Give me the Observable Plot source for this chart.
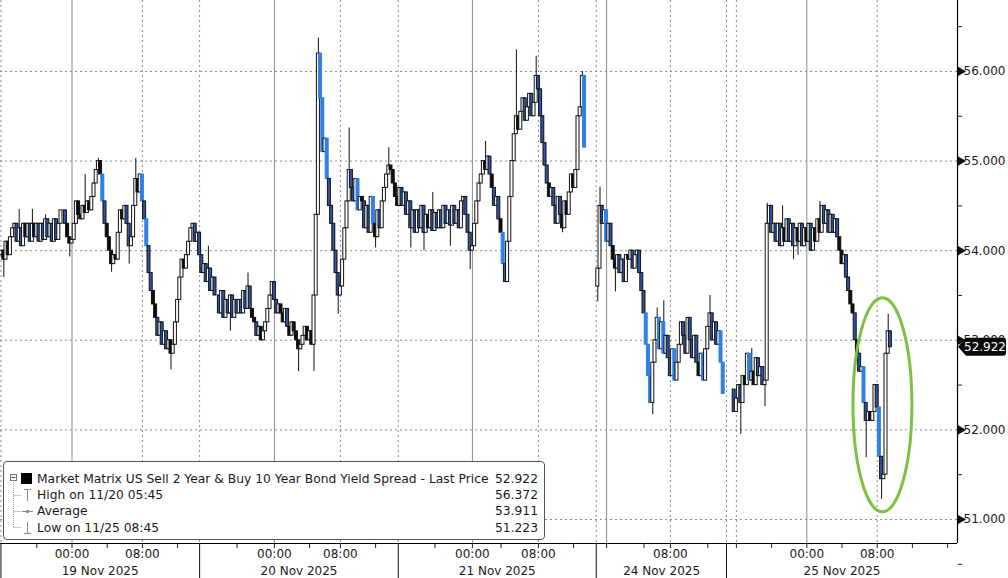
<!DOCTYPE html>
<html><head><meta charset="utf-8">
<script src="https://cdn.jsdelivr.net/npm/d3@7"></script>
<script src="https://cdn.jsdelivr.net/npm/@observablehq/plot@0.6"></script>
<style>
body{margin:0;background:#fff;font-family:"DejaVu Sans",Verdana,sans-serif;}
#wrap{position:relative;width:1008px;height:578px;overflow:hidden;background:#fff;}
#legend{position:absolute;left:3px;top:461px;width:542px;height:79px;border:1px solid #555;border-radius:4px;background:#fff;box-sizing:border-box;font-size:12.3px;color:#1a1a1a;}
#legend .row{position:absolute;left:33px;right:6px;height:16px;line-height:16px;white-space:nowrap;}
#legend .row .v{position:absolute;right:0;top:0;}
</style></head>
<body>
<div id="wrap">
<div id="chart"></div>
<div id="legend">
 <svg width="40" height="77" style="position:absolute;left:0;top:0">
  <line x1="9.5" y1="20" x2="9.5" y2="66" stroke="#999" stroke-dasharray="1,1"/>
  <line x1="9.5" y1="33.5" x2="17" y2="33.5" stroke="#999" stroke-dasharray="1,1"/>
  <line x1="9.5" y1="49.5" x2="17" y2="49.5" stroke="#999" stroke-dasharray="1,1"/>
  <line x1="9.5" y1="65.5" x2="17" y2="65.5" stroke="#999" stroke-dasharray="1,1"/>
  <rect x="6.5" y="12.5" width="6" height="6" fill="#fff" stroke="#777"/>
  <line x1="7.5" y1="15.5" x2="11.5" y2="15.5" stroke="#555"/>
  <rect x="17" y="11" width="11" height="11" fill="#000"/>
  <line x1="20" y1="27.5" x2="27" y2="27.5" stroke="#888"/><line x1="23.5" y1="27.5" x2="23.5" y2="39" stroke="#888"/>
  <line x1="18" y1="49.5" x2="29" y2="49.5" stroke="#888"/><circle cx="23.5" cy="49.5" r="1.8" fill="#888"/>
  <line x1="23.5" y1="60" x2="23.5" y2="71.5" stroke="#888"/><line x1="20" y1="71.5" x2="27" y2="71.5" stroke="#888"/>
 </svg>
 <div class="row" style="top:9px">Market Matrix US Sell 2 Year &amp; Buy 10 Year Bond Yield Spread - Last Price<span class="v">52.922</span></div>
 <div class="row" style="top:25px">High on 11/20 05:45<span class="v">56.372</span></div>
 <div class="row" style="top:41px">Average<span class="v">53.911</span></div>
 <div class="row" style="top:58px">Low on 11/25 08:45<span class="v">51.223</span></div>
</div>
</div>
<script>
// ---- data: 15-minute bars, x = bar slot index (non-trading gaps removed) ----
const seg1Start = 0, seg1Open = 53.95;
const seg1 = [54.0,53.9,54.1,53.95,54.15,54.25,
54.3,54.1,54.25,54.05,54.3,54.15,54.3,54.1,54.3,
54.15,54.3,54.1,54.3,54.12,54.35,54.15,54.3,54.1,54.35,54.12,54.3,54.45,
54.45,54.3,54.15,54.08,54.12,
54.3,54.55,54.4,54.35,54.5,54.42,54.55,54.45,
54.6,54.75,54.9,55.0,54.85,
54.55,54.3,54.15,
54.0,53.85,53.95,53.9,
54.2,54.45,54.35,54.5,54.3,
54.05,54.15,
54.5,54.8,54.65,54.85,
54.55,54.35,54.05,
53.75,53.55,53.4,
53.25,53.05,53.2,52.95,53.1,52.9,53.0,52.85,52.95,
53.2,53.45,53.7,
53.9,53.8,53.95,
54.1,54.25,54.3,54.1,54.2,
53.95,53.75,53.85,
53.65,53.8,53.55,53.7,53.5,
53.5,53.3,53.55,53.25,53.45,53.3,53.5,53.25,53.45,53.3,
53.45,53.3,53.55,53.35,53.6,53.35,53.25,
53.2,53.05,53.15,53.0,53.1,53.2,
53.35,53.5,53.65,53.45,53.3,53.4,
53.3,53.2,53.35,53.15,53.05,53.2,53.1,53.0,52.9,52.95,
53.05,53.15,53.0,53.1,52.95,
53.5,54.4,56.2,55.7,55.1,55.25,54.8,54.5,
54.3,54.0,53.75,53.5,
53.6,53.9,54.25,54.55,
54.9,54.7,54.55,54.8,54.45,54.6,
54.55,54.25,54.5,54.2,54.6,54.3,54.15,54.45,54.25,
54.55,54.7,54.85,54.95,54.9,
54.75,54.6,54.5,
54.7,54.5,54.65,54.4,54.55,54.25,54.45,54.2,
54.45,54.25,54.5,54.2,54.4,54.25,54.45,54.22,54.42,54.25,
54.45,54.25,54.5,54.3,54.45,54.28,54.5,54.3,54.45,54.25,
54.55,54.6,54.4,
54.2,54.0,54.05,
54.3,54.55,54.75,54.85,
55.0,54.9,55.05,54.85,
54.7,54.5,54.6,54.35,
54.2,53.85,53.65,
54.1,54.6,55.0,
55.3,55.5,55.35,55.55,
55.7,55.45,55.6,55.75,55.5,55.65,
55.95,55.8,
55.5,55.2,54.95,
54.75,54.6,54.7,
54.5,54.3,54.6,54.4,54.25,54.55,54.4,
54.65,54.85,54.7,54.9,
55.5,55.6,55.95,55.15];

const seg2Start = 271, seg2Open = 53.6;
const seg2 = [53.8,54.5,54.3,54.45,54.1,54.3,54.05,53.9,53.8,53.95,53.75,53.9,53.65,53.95,
53.9,54.0,53.8,53.95,54.0,53.75,53.55,53.3,52.95,52.6,52.3,52.75,53.0,53.25,52.9,53.2,
52.85,53.05,52.8,52.6,52.9,52.55,52.75,52.95,53.2,53.05,52.85,53.25,53.0,52.8,53.05,
52.75,52.6,52.85,52.55,52.9,53.15,53.3,53.0,53.2,52.95,53.1,52.75,52.4];

const seg3Start = 333, seg3Open = 52.45;
const seg3 = [52.2,52.35,52.5,52.3,52.6,52.5,52.85,52.55,52.65,52.5,52.8,52.6,52.7,52.5,52.55,
54.3,54.5,54.2,
54.3,54.1,54.3,54.05,54.25,54.1,54.35,54.1,54.3,54.05,54.25,54.1,54.3,54.05,54.25,
54.1,54.3,54.0,54.25,54.1,54.35,54.2,
54.5,54.3,54.45,
54.2,54.4,54.2,54.35,54.15,
54.0,53.85,53.95,53.7,
53.55,53.4,53.3,
53.0,52.85,
52.65,52.7,
52.3,52.1,52.2,
52.1,52.2,
52.5,52.25,
51.7,51.45,51.5,52.85,53.1,52.922];

// wick extremes: [slot, high, low]
const wicks = [[1,null,53.7],[8,54.46,null],[14,54.46,null],[20,54.4,null],[31,null,53.93],[38,54.85,null],
[44,55.03,null],[50,null,53.76],[58,null,53.85],[61,55.03,null],[77,null,52.67],[94,54.05,null],
[104,null,53.1],[112,53.75,null],
[135,null,52.65],[142,null,52.65],[144,56.372,null],[153,null,53.29],[158,55.37,null],[170,null,54.03],
[176,55.15,null],[186,null,54.03],[192,null,54.0],[196,54.65,null],[204,null,54.05],
[213,null,53.79],[220,55.22,null],[234,56.24,null],[243,56.17,null],
[255,null,54.2],[264,56.0,null],[271,null,53.43],[272,54.71,null],[279,null,53.54],[296,null,52.17],
[298,53.36,null],[301,53.44,null],[322,53.5,null],[336,null,51.95],[341,52.91,null],[347,null,52.26],
[348,54.53,null],[355,54.5,null],[360,null,53.9],[362,null,53.95],[372,54.55,null],[393,null,51.69],[400,null,51.223],[403,53.29,null]];

const lastPrice = 52.922;
const yTicks = [51,52,53,54,55,56];
const yMinor = [50.5,51.5,52.5,53.5,54.5,55.5,56.5];
const midnightSlots = [32,124,214,275,366];
const eightSlots = [64,154,244,304,398];
const sepSlots = [90,180.3,270.3,329.5];
const extraDotted = [-0.3,334];
const timeLabelSlots = [32,64,124,154,214,244,304,366,398];
const timeLabels = ["00:00","08:00","00:00","08:00","00:00","08:00","08:00","00:00","08:00"];
const minorSlots = [16,48,80,107,140,170,197,227,260,292,321,350,382,414,430,275,334];
const dayCenterSlots = [44.8,135.2,225.3,300,382];
const dayLabels = ["19 Nov 2025","20 Nov 2025","21 Nov 2025","24 Nov 2025","25 Nov 2025"];
const circled = {x1:387.2, x2:414, yHigh:53.47, yLow:51.08};

// ---- build candles ----
const bars = [];
for (const [start, open0, closes] of [[seg1Start,seg1Open,seg1],[seg2Start,seg2Open,seg2],[seg3Start,seg3Open,seg3]]) {
  closes.forEach((c,k)=>{
    const o = k===0 ? open0 : closes[k-1];
    bars.push({i:start+k, open:o, close:c, high:Math.max(o,c), low:Math.min(o,c)});
  });
}
const byI = new Map(bars.map(b=>[b.i,b]));
for (const [i,h,l] of wicks) { const b = byI.get(i); if (!b) continue; if (h!=null) b.high = Math.max(b.high,h); if (l!=null) b.low = Math.min(b.low,l); }

const fillOf = d => { if (d.close >= d.open) return "#ffffff"; const drop = d.open - d.close; return drop >= 0.3 ? "#2f80e4" : drop >= 0.15 ? "#2b55a6" : "#0d0d0d"; };
const strokeOf = d => (d.open - d.close >= 0.3 ? "#2f80e4" : "#111111");

const xDom = [-0.5, 434.5], yDom = [50.732, 56.792];
const font = "DejaVu Sans, Verdana, sans-serif";

const chart = Plot.plot({
  width: 1008, height: 578,
  marginLeft: 0, marginTop: 0, marginRight: 51, marginBottom: 35,
  style: {fontFamily: font, fontSize: "12px", background: "#fff", color: "#1a1a1a"},
  x: {domain: xDom},
  y: {domain: yDom},
  marks: [
    Plot.ruleY(yTicks, {stroke: "#8a8a8a", strokeDasharray: "2,3"}),
    Plot.ruleX(midnightSlots, {stroke: "#8a8a8a"}),
    Plot.ruleX([...eightSlots, ...sepSlots, ...extraDotted], {stroke: "#8a8a8a", strokeDasharray: "2,3"}),
    Plot.ruleX(bars, {x: "i", y1: "low", y2: "high", stroke: "#111", strokeWidth: 1}),
    Plot.rect(bars, {x1: d => d.i - 0.68, x2: d => d.i + 0.68, y1: "open", y2: "close", fill: fillOf, stroke: strokeOf, strokeWidth: 1}),
    Plot.ruleY([yDom[0]], {stroke: "#000", strokeWidth: 1.2}),
    Plot.ruleX([xDom[1]], {stroke: "#000", strokeWidth: 1.2}),
    // right axis
    Plot.axisY(yTicks, {anchor: "right", tickSize: 0, tickPadding: 6, tickFormat: d => d.toFixed(3), label: null, fontSize: 12, color: "#1a1a1a"}),
    Plot.axisY(yMinor, {anchor: "right", tickSize: 4, tickFormat: () => "", label: null, color: "#222"}),
    Plot.dot(yTicks, {x: () => xDom[1], y: d => d, symbol: "triangle", r: 3.6, rotate: 90, fill: "#111", dx: 3, clip: false}),
    // bottom axis
    Plot.axisX([...timeLabelSlots, ...minorSlots], {anchor: "bottom", tickSize: 5, tickFormat: () => "", label: null, color: "#222"}),
    Plot.axisX([-0.3, ...sepSlots], {anchor: "bottom", tickSize: 35, tickFormat: () => "", label: null, color: "#111"}),
    Plot.axisX(timeLabelSlots, {anchor: "bottom", tickSize: 0, tickPadding: 6, tickFormat: d => timeLabels[timeLabelSlots.indexOf(d)], label: null, fontSize: 12, color: "#1a1a1a"}),
    Plot.axisX(dayCenterSlots, {anchor: "bottom", tickSize: 0, tickPadding: 23, tickFormat: d => dayLabels[dayCenterSlots.indexOf(d)], label: null, fontSize: 12, color: "#1a1a1a"})
  ]
});
document.getElementById("chart").appendChild(chart);

// annotations placed through the chart's own scales
const xs = chart.scale("x"), ys = chart.scale("y");
const ns = "http://www.w3.org/2000/svg";
const ell = document.createElementNS(ns, "ellipse");
ell.setAttribute("cx", (xs.apply(circled.x1) + xs.apply(circled.x2)) / 2);
ell.setAttribute("cy", (ys.apply(circled.yHigh) + ys.apply(circled.yLow)) / 2);
ell.setAttribute("rx", (xs.apply(circled.x2) - xs.apply(circled.x1)) / 2);
ell.setAttribute("ry", (ys.apply(circled.yLow) - ys.apply(circled.yHigh)) / 2);
ell.setAttribute("fill", "none"); ell.setAttribute("stroke", "#7cc142"); ell.setAttribute("stroke-width", "3");
chart.appendChild(ell);

const py = ys.apply(lastPrice), px = xs.apply(xDom[1]) + 1;
const tag = document.createElementNS(ns, "path");
tag.setAttribute("d", `M${px},${py} L${px+8},${py-9} L${px+45},${py-9} Q${px+48},${py-9} ${px+48},${py-6} L${px+48},${py+6} Q${px+48},${py+9} ${px+45},${py+9} L${px+8},${py+9} Z`);
tag.setAttribute("fill", "#0a0a0a");
chart.appendChild(tag);
const tt = document.createElementNS(ns, "text");
tt.setAttribute("x", px + 6); tt.setAttribute("y", py); tt.setAttribute("dy", "0.36em");
tt.setAttribute("text-anchor", "start");
tt.setAttribute("fill", "#fff"); tt.setAttribute("font-size", "12"); tt.setAttribute("font-family", font);
tt.textContent = lastPrice.toFixed(3);
chart.appendChild(tt);
</script>
</body></html>
